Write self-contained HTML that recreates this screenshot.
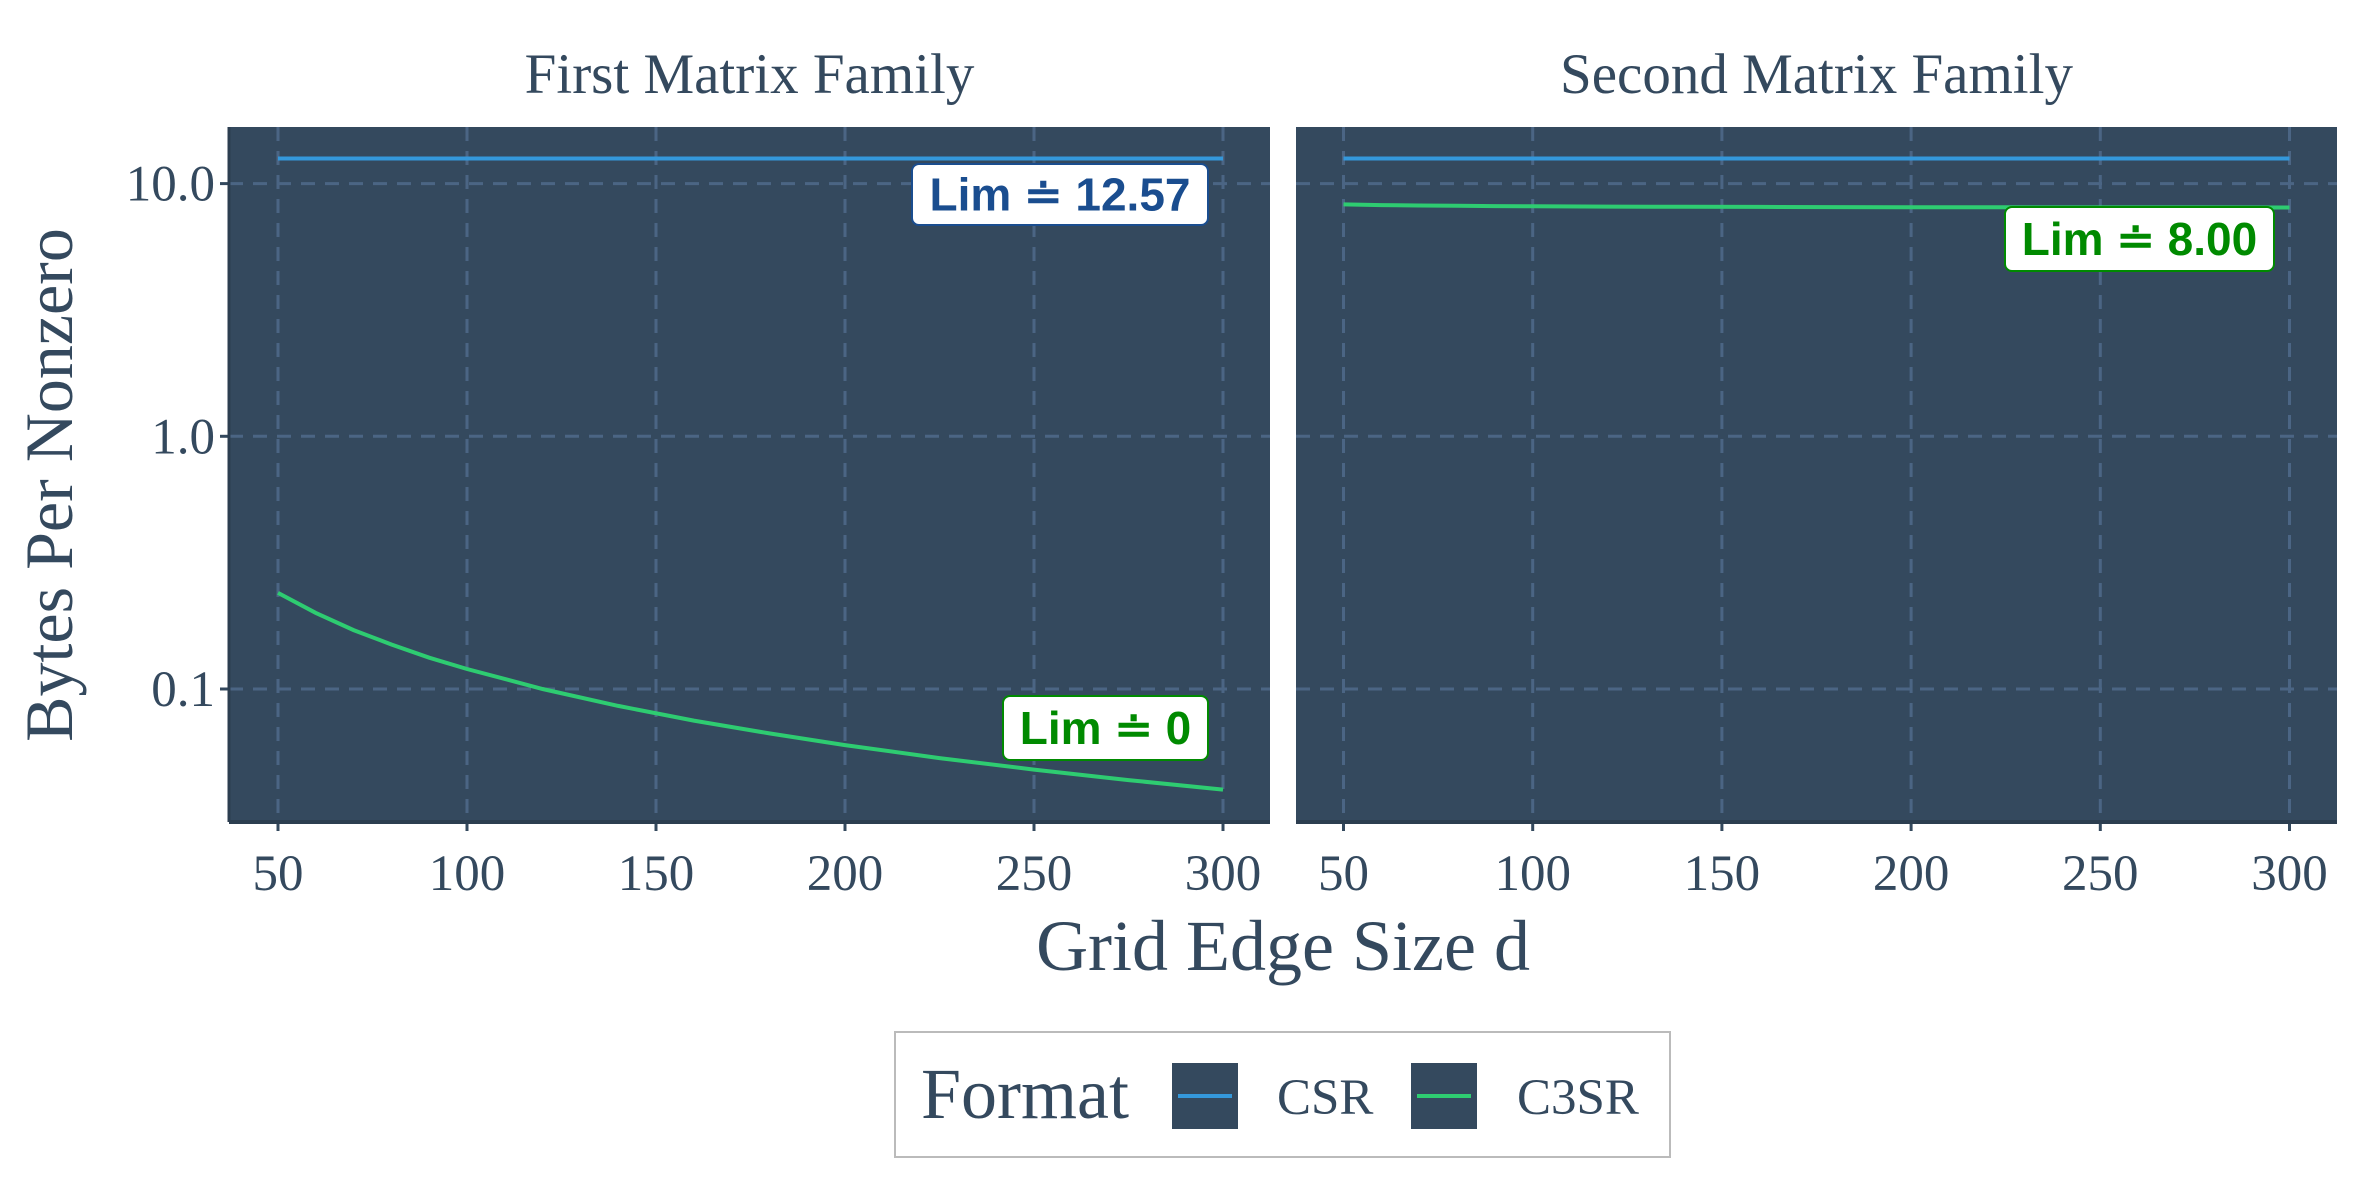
<!DOCTYPE html>
<html><head><meta charset="utf-8"><style>
html,body{margin:0;padding:0;background:#fff;}
svg{display:block;}
text{font-family:"Liberation Serif","DejaVu Serif",serif;fill:#34495e;}
.lab{font-family:"Liberation Sans",sans-serif;font-weight:bold;}
</style></head><body>
<svg id="chart" width="2362" height="1181" viewBox="0 0 2362 1181" xmlns="http://www.w3.org/2000/svg"></svg>
<script>
const xTicks = [50,100,150,200,250,300];
const yTicks = [0.1,1,10];
const yTickLabels = ["0.1","1.0","10.0"];
const dValues = [50,60,70,80,90,100,120,140,160,180,200,225,250,275,300];
const csrFirst = [12.57,12.57,12.57,12.57,12.57,12.57,12.57,12.57,12.57,12.57,12.57,12.57,12.57,12.57,12.57];
const c3srFirst = [0.24,0.2,0.171,0.15,0.133,0.12,0.1,0.0857,0.075,0.0667,0.06,0.0533,0.048,0.0436,0.04];
const csrSecond = [12.57,12.57,12.57,12.57,12.57,12.57,12.57,12.57,12.57,12.57,12.57,12.57,12.57,12.57,12.57];
const c3srSecond = [8.27,8.22,8.19,8.17,8.15,8.135,8.11,8.096,8.084,8.075,8.068,8.06,8.054,8.049,8.045];
const panelTitles = ["First Matrix Family","Second Matrix Family"];
const limLabels = [["Lim ≐ 12.57","Lim ≐ 0"],["Lim ≐ 8.00"]];

const NS="http://www.w3.org/2000/svg";
const svg=document.getElementById('chart');
function mk(tag,attrs,parent){const e=document.createElementNS(NS,tag);for(const k in attrs)e.setAttribute(k,attrs[k]);(parent||svg).appendChild(e);return e;}
const plotTop=127,plotBottom=822;
const panels=[{l:229,r:1270,x50:278,x300:1223},{l:1296,r:2337,x50:1343.5,x300:2289.5}];
function yS(v){return 436.3-Math.log10(v)*252.7;}
const csrColor="#3498db",c3Color="#2ecc71";
panels.forEach((p,pi)=>{
  const xS=v=>p.x50+(v-50)*(p.x300-p.x50)/250;
  const g=mk('g',{});
  
  
  const bg=mk('rect',{x:p.l,y:plotTop,width:p.r-p.l,height:plotBottom-plotTop,fill:'#34495e'},g);
  
  
  const t=mk('text',{x:(p.l+p.r)/2,y:93,'text-anchor':'middle','font-size':57},g);
  t.textContent=panelTitles[pi];
  
  
  xTicks.forEach(v=>{
    const gl=mk('line',{x1:xS(v),x2:xS(v),y1:plotTop,y2:plotBottom,stroke:'#4b6584','stroke-width':3,'stroke-dasharray':'14,10'},g);
    
    
    mk('line',{x1:xS(v),x2:xS(v),y1:plotBottom,y2:plotBottom+9,stroke:'#34495e','stroke-width':3},g);
    const tl=mk('text',{x:xS(v),y:890,'text-anchor':'middle','font-size':51},g);
    tl.textContent=v;
    
    
  });
  yTicks.forEach((v,i)=>{
    const gl=mk('line',{x1:p.l,x2:p.r,y1:yS(v),y2:yS(v),stroke:'#4b6584','stroke-width':3,'stroke-dasharray':'14,10'},g);
    
    
    if(pi===0){
      mk('line',{x1:p.l-9,x2:p.l,y1:yS(v),y2:yS(v),stroke:'#34495e','stroke-width':3},g);
      const tl=mk('text',{x:p.l-14,y:yS(v)+17,'text-anchor':'end','font-size':51},g);
      tl.textContent=yTickLabels[i];
      
      
    }
  });
  const ax=mk('line',{x1:p.l,x2:p.r,y1:plotBottom,y2:plotBottom,stroke:'#2c3e50','stroke-width':4},g);
  
  
  if(pi===0){const ay=mk('line',{x1:p.l,x2:p.l,y1:plotTop,y2:plotBottom,stroke:'#2c3e50','stroke-width':3},g);
    }
  const series=pi===0?[[csrFirst,csrColor,'csr'],[c3srFirst,c3Color,'c3sr']]:[[csrSecond,csrColor,'csr'],[c3srSecond,c3Color,'c3sr']];
  series.forEach(([vals,col,nm])=>{
    const pts=dValues.map((d,i)=>xS(d).toFixed(1)+','+yS(vals[i]).toFixed(1)).join(' ');
    const pl=mk('polyline',{points:pts,fill:'none',stroke:col,'stroke-width':4},g);
    
    
  });
  const boxes=pi===0?[[912,164,296,61,'#1a4d8f'],[1003,696,205,64,'#008a00']]:[[2005,207,269,64,'#008a00']];
  boxes.forEach((b,bi)=>{
    const lg=mk('g',{},g);
    
    
    mk('rect',{x:b[0],y:b[1],width:b[2],height:b[3],rx:7,fill:'#fff',stroke:b[4],'stroke-width':2},lg);
    const tx=mk('text',{x:b[0]+b[2]/2,y:b[1]+b[3]/2+16,'text-anchor':'middle','font-size':46,class:'lab',fill:b[4]},lg);
    tx.style.fill=b[4];
    tx.textContent=limLabels[pi][bi];
  });
});
const yt=mk('text',{x:0,y:0,'text-anchor':'middle','font-size':68,transform:'translate(72,485) rotate(-90)'});
yt.textContent='Bytes Per Nonzero';


const xt=mk('text',{x:1283,y:970,'text-anchor':'middle','font-size':72});
xt.textContent='Grid Edge Size d';


const leg=mk('g',{});


mk('rect',{x:895,y:1032,width:775,height:125,fill:'#fff',stroke:'#bbb','stroke-width':2},leg);
const lt=mk('text',{x:921,y:1118,'font-size':72},leg);
lt.textContent='Format';


[[1172,'CSR',csrColor,1277],[1411,'C3SR',c3Color,1517]].forEach(([kx,name,col,tx])=>{
  const e=mk('g',{},leg);
  
  
  mk('rect',{x:kx,y:1063,width:66,height:66,fill:'#34495e'},e);
  mk('line',{x1:kx+6,x2:kx+60,y1:1096,y2:1096,stroke:col,'stroke-width':4},e);
  const t=mk('text',{x:tx,y:1114,'font-size':51},e);
  t.textContent=name;
});
</script>
</body></html>
